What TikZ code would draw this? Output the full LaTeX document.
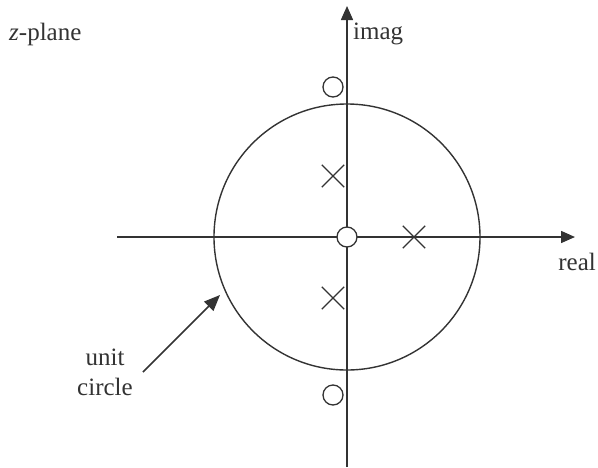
\documentclass[tikz,border=0pt]{standalone}
\usepackage{fontspec}
\setmainfont{Liberation Serif}
\usetikzlibrary{arrows.meta,shapes.misc}

\begin{document}
\begin{tikzpicture}[
  x=1pt, y=-1pt,
  axis/.style={line width=1.5pt, draw=black!80,
               -{Triangle[length=14pt,width=12pt]}},
  ucirc/.style={line width=1.4pt, draw=black!80},
  pole/.style={cross out, draw=black!80, line width=1.3pt,
               minimum size=21pt, inner sep=0pt},
  zero/.style={circle, draw=black!80, line width=1.3pt, fill=white,
               minimum size=20pt, inner sep=0pt},
  lbl/.style={font=\fontsize{25}{30}\selectfont, text=black!80,
              align=center, inner sep=0pt},
  arr/.style={line width=1.5pt, draw=black!80,
              -{Triangle[length=16pt,width=13pt]}},
]
\useasboundingbox (0,0) rectangle (598,467);

%% Axes
\coordinate (org) at (347,237);
\coordinate (rl) at (117,237);
\coordinate (rr) at (575,237);
\coordinate (ib) at (347,467);
\coordinate (it) at (347,6);
\draw[axis] (rl) -- (rr);
\draw[axis] (ib) -- (it);

%% Unit circle
\draw[ucirc] (org) circle (133pt);

%% Poles and zeros
\node[zero] (z0) at (org) {};
\node[zero] (z1) at (333,87) {};
\node[zero] (z2) at (333,395) {};
\node[pole] (p1) at (333,176) {};
\node[pole] (p2) at (333,298) {};
\node[pole] (p3) at (414,237) {};

%% Labels
\node[lbl, anchor=base west] (zpl) at (9,40) {\textit{z}-plane};
\node[lbl, anchor=base west] (im) at (353,39) {imag};
\node[lbl, anchor=base east] (re) at (596,270) {real};
\node[lbl, anchor=north] (uc) at (105,349) {unit\\circle};
\coordinate (uctip) at (220,295);
\draw[arr] (143,372) -- (uctip);

\end{tikzpicture}
\end{document}
